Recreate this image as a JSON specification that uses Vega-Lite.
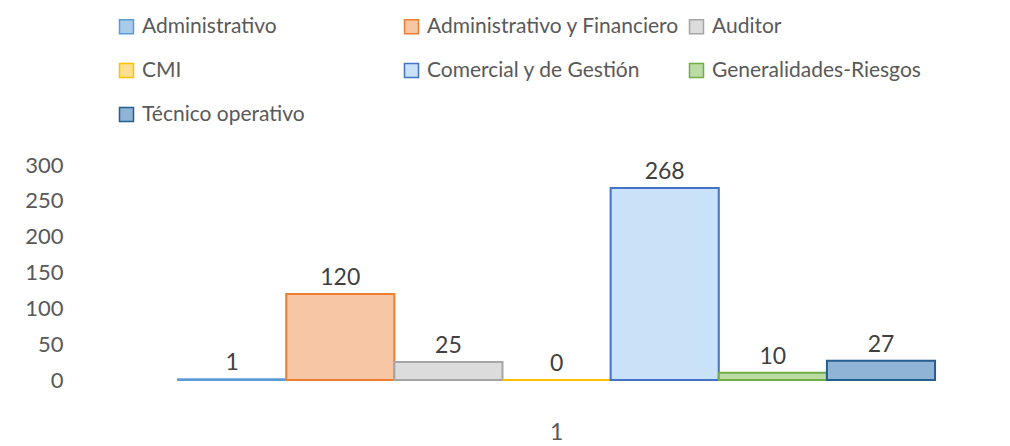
{
  "$schema": "https://vega.github.io/schema/vega-lite/v6.json",
  "width": 935,
  "height": 215,
  "autosize": {"type": "none"},
  "padding": {"left": 75, "top": 165, "right": 0, "bottom": 66},
  "background": "white",
  "config": {"font": "Lato", "view": {"stroke": null}},
  "data": {
    "values": [
      {"grupo": "1", "serie": "Administrativo", "valor": 1},
      {"grupo": "1", "serie": "Administrativo y Financiero", "valor": 120},
      {"grupo": "1", "serie": "Auditor", "valor": 25},
      {"grupo": "1", "serie": "CMI", "valor": 0},
      {"grupo": "1", "serie": "Comercial y de Gestión", "valor": 268},
      {"grupo": "1", "serie": "Generalidades-Riesgos", "valor": 10},
      {"grupo": "1", "serie": "Técnico operativo", "valor": 27}
    ]
  },
  "encoding": {
    "x": {
      "field": "grupo",
      "type": "nominal",
      "scale": {"paddingInner": 0, "paddingOuter": 0.1176, "align": 0.579},
      "axis": {"title": null, "labelAngle": 0, "domain": false, "ticks": false, "labelFontSize": 23, "labelColor": "#595959", "labelPadding": 41}
    },
    "xOffset": {
      "field": "serie",
      "type": "nominal",
      "sort": ["Administrativo", "Administrativo y Financiero", "Auditor", "CMI", "Comercial y de Gestión", "Generalidades-Riesgos", "Técnico operativo"],
      "scale": {"paddingInner": 0, "paddingOuter": 0}
    },
    "y": {
      "field": "valor",
      "type": "quantitative",
      "scale": {"domain": [0, 300]},
      "axis": {"title": null, "values": [0, 50, 100, 150, 200, 250, 300], "domain": false, "ticks": false, "grid": false, "labelFontSize": 22, "labelColor": "#595959", "labelPadding": 12}
    }
  },
  "layer": [
    {
      "mark": {"type": "bar", "strokeWidth": 2},
      "encoding": {
        "fill": {
          "field": "serie",
          "type": "nominal",
          "scale": {
            "domain": ["Administrativo", "Administrativo y Financiero", "Auditor", "CMI", "Comercial y de Gestión", "Generalidades-Riesgos", "Técnico operativo"],
            "range": ["#a9cbe9", "#f7c6a5", "#dcdcdc", "#fde08f", "#c9e2f7", "#bcdca5", "#8fb4d6"]
          },
          "legend": {
            "title": null, "orient": "none", "legendX": 41, "legendY": -149, "direction": "horizontal",
            "columns": 3, "gridAlign": "all", "columnPadding": 6, "rowPadding": 22,
            "symbolType": "square", "symbolSize": 196, "symbolStrokeWidth": 1.5, "symbolOffset": 0,
            "labelFontSize": 21, "labelColor": "#595959", "labelOffset": 5, "labelLimit": 400
          }
        },
        "stroke": {
          "field": "serie",
          "type": "nominal",
          "scale": {
            "domain": ["Administrativo", "Administrativo y Financiero", "Auditor", "CMI", "Comercial y de Gestión", "Generalidades-Riesgos", "Técnico operativo"],
            "range": ["#5B9BD5", "#ED7D31", "#A5A5A5", "#FFC000", "#4472C4", "#70AD47", "#255E91"]
          },
          "legend": {
            "title": null, "orient": "none", "legendX": 41, "legendY": -149, "direction": "horizontal",
            "columns": 3, "gridAlign": "all", "columnPadding": 6, "rowPadding": 22,
            "symbolType": "square", "symbolSize": 196, "symbolStrokeWidth": 1.5, "symbolOffset": 0,
            "labelFontSize": 21, "labelColor": "#595959", "labelOffset": 5, "labelLimit": 400
          }
        }
      }
    },
    {
      "mark": {"type": "text", "baseline": "bottom", "dy": -4, "fontSize": 23, "color": "#404040"},
      "encoding": {"text": {"field": "valor", "type": "quantitative"}}
    }
  ]
}
